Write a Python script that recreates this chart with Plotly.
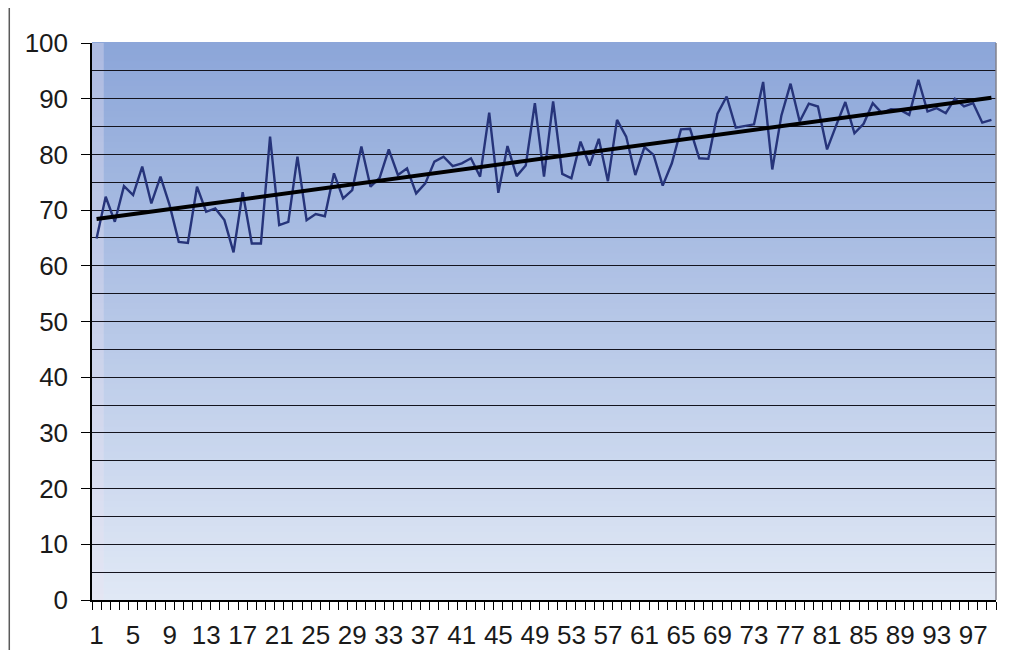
import numpy as np
import plotly.graph_objects as go

# ---- data ----
values = [
    64.9, 72.4, 67.9, 74.3, 72.7, 77.8, 71.2, 76.0, 70.9, 64.3,
    64.1, 74.2, 69.7, 70.3, 68.2, 62.4, 73.2, 64.0, 64.0, 83.2,
    67.3, 67.9, 79.6, 68.2, 69.3, 68.9, 76.6, 72.1, 73.6, 81.4,
    74.2, 75.8, 80.9, 76.3, 77.5, 73.0, 74.8, 78.7, 79.6, 77.9,
    78.4, 79.3, 76.0, 87.5, 73.1, 81.5, 76.1, 78.0, 89.2, 76.0,
    89.5, 76.5, 75.7, 82.3, 78.0, 82.8, 75.2, 86.2, 83.2, 76.3,
    81.3, 79.9, 74.4, 78.4, 84.5, 84.6, 79.3, 79.2, 87.3, 90.4,
    84.8, 85.1, 85.4, 93.0, 77.3, 87.0, 92.7, 85.9, 89.1, 88.6,
    80.9, 85.2, 89.4, 83.8, 85.5, 89.2, 87.4, 88.1, 88.0, 87.1,
    93.4, 87.7, 88.3, 87.4, 90.0, 88.6, 89.2, 85.7, 86.2,
]
categories = list(range(1, len(values) + 1))
x_tick_values = list(range(1, len(values) + 1, 4))
x_tick_labels = [str(v) for v in x_tick_values]
y_tick_values = list(range(0, 101, 10))

# linear trend computed from the series
slope, intercept = np.polyfit(categories, values, 1)
trend_x = [categories[0], categories[-1]]
trend_y = [slope * t + intercept for t in trend_x]

fig = go.Figure()
fig.add_trace(go.Scatter(
    x=categories, y=values, mode="lines",
    line=dict(color="rgb(38,52,122)", width=2.4),
    hoverinfo="skip", showlegend=False,
))
fig.add_trace(go.Scatter(
    x=trend_x, y=trend_y, mode="lines",
    line=dict(color="black", width=4),
    hoverinfo="skip", showlegend=False,
))

# vertical gradient background for the plot area
shapes = []
n_strips = 90
top = np.array([140, 166, 217])
bottom = np.array([225, 233, 246])
for k in range(n_strips):
    t = (k + 0.5) / n_strips  # 0 bottom -> 1 top
    c = bottom + (top - bottom) * t
    shapes.append(dict(
        type="rect", xref="paper", yref="paper",
        x0=0, x1=1, y0=k / n_strips, y1=(k + 1) / n_strips + 0.002,
        fillcolor=f"rgb({int(c[0])},{int(c[1])},{int(c[2])})",
        line=dict(width=0), layer="below",
    ))
# faint light strip along the left edge of the plot area
shapes.append(dict(
    type="rect", xref="paper", yref="paper",
    x0=0, x1=0.013, y0=0, y1=1,
    fillcolor="rgba(235,225,240,0.35)", line=dict(width=0), layer="below",
))
# right border of plot area
shapes.append(dict(
    type="line", xref="paper", yref="paper",
    x0=1, x1=1, y0=0, y1=1,
    line=dict(color="rgb(130,130,140)", width=1.5), layer="above",
))
# outer left frame line of the chart
shapes.append(dict(
    type="line", xref="paper", yref="paper",
    x0=-0.0915, x1=-0.0915, y0=-0.1, y1=1.07,
    line=dict(color="rgb(90,90,90)", width=1.5), layer="above",
))

fig.update_layout(
    width=997, height=642,
    margin=dict(l=84, r=9, t=35, b=50),
    paper_bgcolor="white",
    plot_bgcolor="rgb(200,212,236)",
    shapes=shapes,
    font=dict(family="Liberation Sans, Arial, sans-serif", size=26, color="#1a1a1a"),
    showlegend=False,
)
fig.update_xaxes(
    range=[0.5, len(values) + 0.5],
    tickmode="array", tickvals=x_tick_values, ticktext=x_tick_labels,
    ticks="", showgrid=False, zeroline=False,
    showline=True, linecolor="black", linewidth=1.5,
    ticklabelstandoff=11, automargin=False,
    minor=dict(tick0=0.5, dtick=1, ticks="outside", ticklen=8,
               tickcolor="black", tickwidth=1.2, showgrid=False),
    fixedrange=True,
)
fig.update_yaxes(
    range=[0, 100],
    tickmode="array", tickvals=y_tick_values,
    ticks="outside", ticklen=9, tickcolor="black", tickwidth=1.2,
    showgrid=True, gridcolor="rgb(20,20,30)", gridwidth=1.2,
    zeroline=False,
    showline=True, linecolor="black", linewidth=1.5,
    ticklabelstandoff=8, automargin=False,
    minor=dict(dtick=5, showgrid=True, gridcolor="rgb(20,20,30)", gridwidth=1.2, ticks=""),
    fixedrange=True,
)

fig.write_html("out.html")
